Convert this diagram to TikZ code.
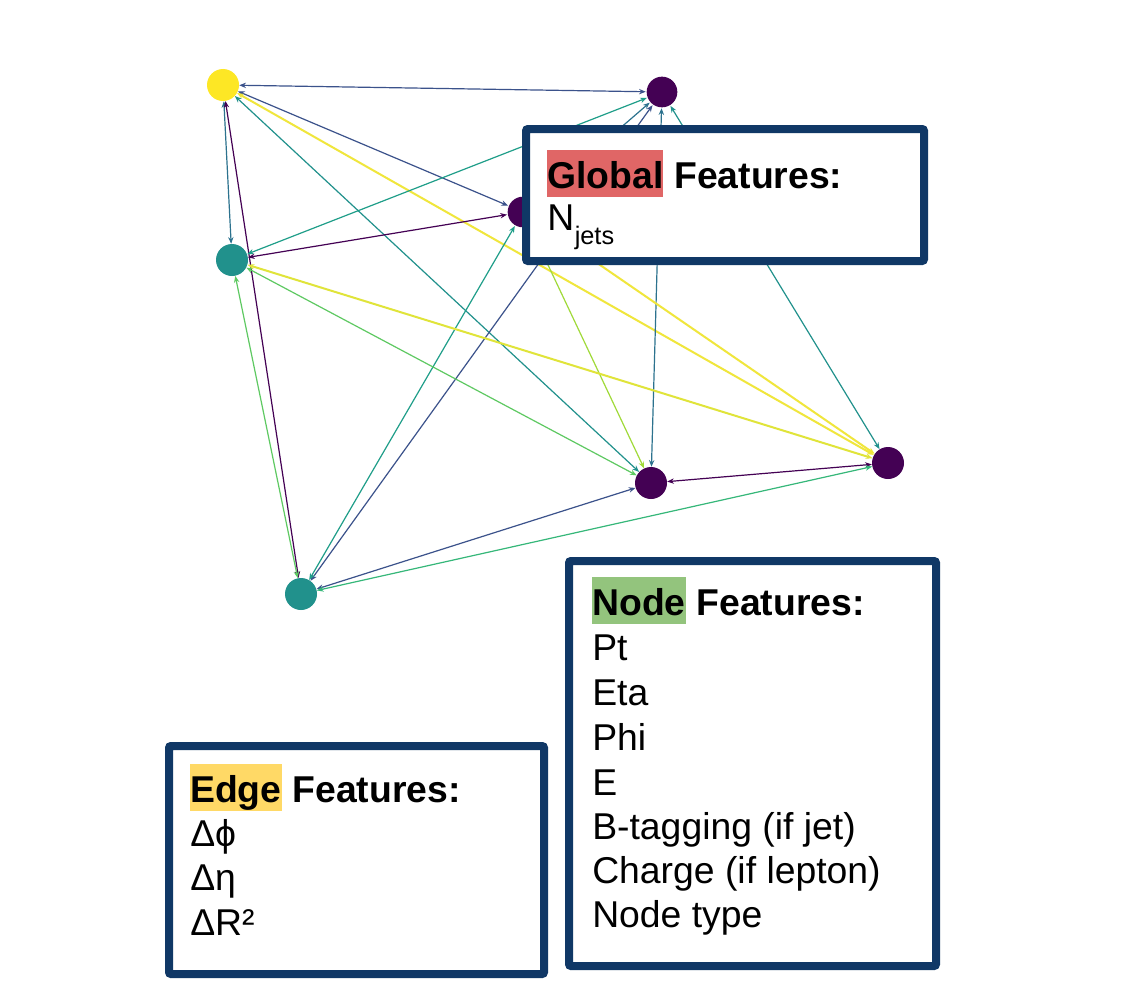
\documentclass[tikz,border=0pt]{standalone}
\usepackage{fontspec}
\setmainfont{Liberation Sans}
\usetikzlibrary{arrows.meta}
\definecolor{vyel}{HTML}{F0E63C}
\definecolor{vpur}{HTML}{440154}
\definecolor{vteal}{HTML}{21918C}
\definecolor{vnavy}{HTML}{3B528B}
\definecolor{vblt}{HTML}{2C728E}
\definecolor{vtg}{HTML}{1F9E89}
\definecolor{vgr}{HTML}{5EC962}
\definecolor{vlg}{HTML}{A0DA39}
\definecolor{vyg}{HTML}{E0E43A}
\definecolor{vgt}{HTML}{35B779}
\definecolor{nyel}{HTML}{FDE725}
\definecolor{boxblue}{RGB}{16,56,102}
\definecolor{hlred}{HTML}{E06666}
\definecolor{hlyel}{HTML}{FFD966}
\definecolor{hlgrn}{HTML}{93C47D}
\begin{document}
\begin{tikzpicture}[x=0.75pt,y=-0.75pt,
  gnode/.style={circle, inner sep=0pt, minimum size=24pt},
  edg/.style={line width=0.9pt, {Stealth[length=5pt,width=4pt]}-{Stealth[length=5pt,width=4pt]}},
  thk/.style={line width=1.5pt},
  featbox/.style={draw=boxblue, line width=6pt, fill=white, rounded corners=1.5pt, anchor=north west, inner sep=0pt},
  txt/.style={anchor=base west, inner sep=0pt, font=\fontsize{28}{33}\selectfont},
  hlw/.style={anchor=base west, inner sep=0pt, text height=28.5pt, text depth=6.5pt, font=\fontsize{28}{33}\selectfont\bfseries},
  ttl/.style={anchor=base west, inner sep=0pt, font=\fontsize{28}{33}\selectfont\bfseries, xshift=7.8pt}
]
\useasboundingbox (0,0) rectangle (1134,981);
\fill[white] (0,0) rectangle (1134,981);

% graph nodes
\node[gnode] (Y) at (223,85) {};
\node[gnode] (A) at (662,92) {};
\node[gnode] (B) at (523,212) {};
\node[gnode] (C) at (232,260) {};
\node[gnode] (D) at (651,483) {};
\node[gnode] (E) at (888,463) {};
\node[gnode] (F) at (301,594) {};

% edges
\draw[edg, vnavy] (Y) -- (A);
\draw[edg, vnavy] (Y) -- (B);
\draw[edg, vblt] (Y) -- (C);
\draw[edg, vteal] (Y) -- (D);
\draw[edg, thk, vyel] (Y) -- (E);
\draw[edg, vpur] (Y) -- (F);
\draw[edg, vblt] (A) -- (B);
\draw[edg, vtg] (A) -- (C);
\draw[edg, vblt] (A) -- (D);
\draw[edg, vteal] (A) -- (E);
\draw[edg, vnavy] (A) -- (F);
\draw[edg, vpur] (B) -- (C);
\draw[edg, vlg] (B) -- (D);
\draw[edg, thk, vyel] (B) -- (E);
\draw[edg, vtg] (B) -- (F);
\draw[edg, vgr] (C) -- (D);
\draw[edg, thk, vyg] (C) -- (E);
\draw[edg, vgr] (C) -- (F);
\draw[edg, vpur] (D) -- (E);
\draw[edg, vnavy] (D) -- (F);
\draw[edg, vgt] (E) -- (F);

% node discs on top of edges
\fill[nyel] (Y) circle (12pt);
\fill[vpur] (A) circle (11.5pt);
\fill[vpur] (B) circle (11.5pt);
\fill[vteal] (C) circle (12pt);
\fill[vpur] (D) circle (12pt);
\fill[vpur] (E) circle (12pt);
\fill[vteal] (F) circle (12pt);

% Global features box
\node[featbox, minimum width=298.5pt, minimum height=99pt] (gbox) at (522,125) {};
\node[hlw, fill=hlred] (gword) at (547,188) {Global};
\node[ttl] (gtitle) at (gword.base east) {Features:};
\node[txt] (nj) at (547,230) {N};
\node[anchor=base west, inner sep=0pt, font=\fontsize{19}{22}\selectfont, yshift=-10.5pt] (jets) at (nj.base east) {jets};

% Node features box
\node[featbox, minimum width=275.25pt, minimum height=303.75pt] (nbox) at (565,557) {};
\node[hlw, fill=hlgrn] (nword) at (592,615) {Node};
\node[ttl] (ntitle) at (nword.base east) {Features:};
\node[txt] (n1) at (592,660) {Pt};
\node[txt] (n2) at (592,705) {Eta};
\node[txt] (n3) at (592,750) {Phi};
\node[txt] (n4) at (592,795) {E};
\node[txt] (n5) at (592,839) {B-tagging (if jet)};
\node[txt] (n6) at (592,883) {Charge (if lepton)};
\node[txt] (n7) at (592,927) {Node type};

% Edge features box
\node[featbox, minimum width=281.25pt, minimum height=171pt] (ebox) at (165,742) {};
\node[hlw, fill=hlyel] (eword) at (190,802) {Edge};
\node[ttl] (etitle) at (eword.base east) {Features:};
\node[txt] (e1) at (190,846) {Δϕ};
\node[txt] (e2) at (190,890) {Δη};
\node[txt] (e3) at (190,935) {ΔR²};
\end{tikzpicture}
\end{document}
